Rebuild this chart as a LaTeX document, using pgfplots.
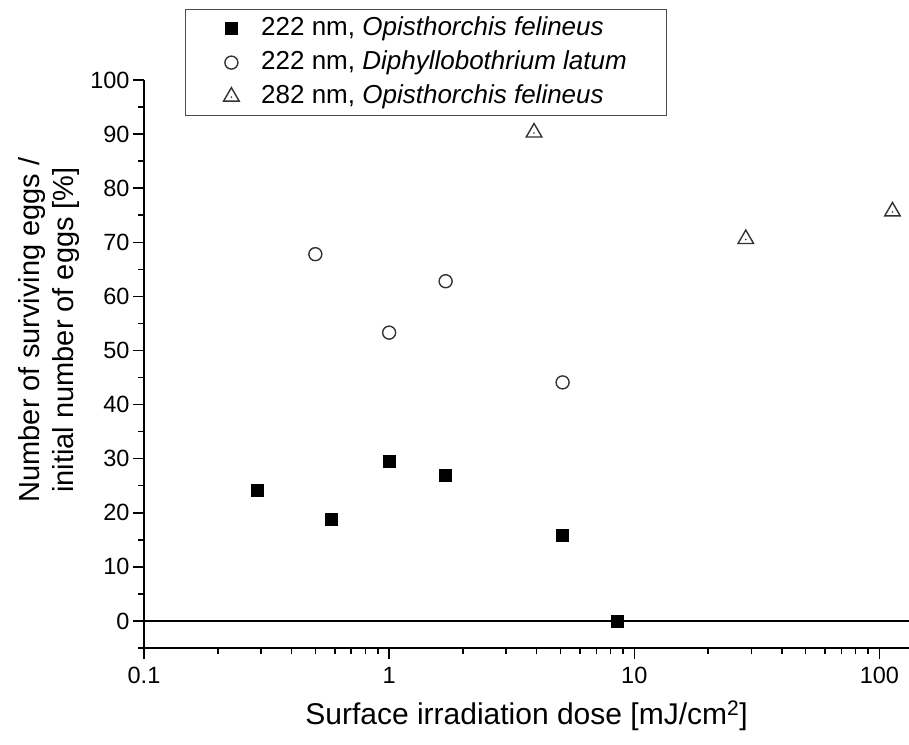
\documentclass[border=0pt]{standalone}
\usepackage{pgfplots}
\pgfplotsset{compat=1.18}
\usepackage{fontspec}
\setmainfont{Liberation Sans}
\definecolor{markgray}{HTML}{333333}
\pgfdeclareplotmark{tridot}{%
  \pgfpathmoveto{\pgfqpoint{0pt}{\pgfplotmarksize}}%
  \pgfpathlineto{\pgfqpointpolar{-30}{\pgfplotmarksize}}%
  \pgfpathlineto{\pgfqpointpolar{210}{\pgfplotmarksize}}%
  \pgfpathclose
  \pgfusepathqfillstroke
  \begin{pgfscope}
  \pgfpathcircle{\pgfqpoint{0pt}{-0.5pt}}{0.9pt}%
  \pgfsetfillcolor{markgray}\pgfusepathqfill
  \end{pgfscope}
}
\begin{document}
\begin{tikzpicture}
\begin{axis}[
  name=ax,
  scale only axis,
  width=765pt, height=568pt,
  xmode=log, xmin=0.1, xmax=132,
  ymin=-5, ymax=100,
  axis x line*=bottom, axis y line*=left,
  axis line style={line width=1.5pt, -},
  xtick={0.1,1,10,100}, xticklabels={0.1,1,10,100},
  minor xtick={0.2,0.3,0.4,0.5,0.6,0.7,0.8,0.9,2,3,4,5,6,7,8,9,20,30,40,50,60,70,80,90},
  ytick={0,10,20,30,40,50,60,70,80,90,100},
  minor ytick={-5,5,15,25,35,45,55,65,75,85,95},
  tick align=outside,
  major tick length=11pt, minor tick length=6pt,
  every tick/.style={black, line width=1.5pt},
  tick label style={font=\fontsize{23.5}{27}\selectfont},
  xticklabel style={yshift=-5pt},
  /pgf/number format/assume math mode=true,
  xlabel={Surface irradiation dose [mJ/cm\textsuperscript{2}]},
  ylabel={Number of surviving eggs /\\initial number of eggs [\%]},
  label style={font=\fontsize{30}{35}\selectfont, align=center},
  xlabel style={yshift=-10pt},
  ylabel style={at={(ticklabel cs:0.56)}, font=\fontsize{29}{34}\selectfont, yshift=4pt},
  legend style={at={(0.0536,1.125)}, anchor=north west, draw=gray!60!black, line width=1.2pt,
    font=\fontsize{26}{31}\selectfont, inner xsep=38pt, inner ysep=2pt,
    nodes={text height=19pt, text depth=6pt, inner ysep=4.5pt},
    column sep=20pt},
  legend cell align=left,
]
\addplot[only marks, mark=square*, mark size=6pt, black] coordinates {
  (0.29,24.1) (0.58,18.9) (1.0,29.5) (1.7,26.9) (5.1,15.9) (8.5,0)
};
\addlegendentry{222 nm, \textit{Opisthorchis felineus}}
\addplot[only marks, mark=o, mark size=6.5pt, mark options={draw=markgray, fill=white, line width=1.4pt}] coordinates {
  (0.50,67.8) (1.0,53.3) (1.7,62.8) (5.1,44.1)
};
\addlegendentry{222 nm, \textit{Diphyllobothrium latum}}
\addplot[only marks, mark=tridot, mark size=9pt, mark options={draw=markgray, fill=white, line width=1.4pt}] coordinates {
  (3.9,90.3) (28.5,70.6) (113,75.7)
};
\addlegendentry{282 nm, \textit{Opisthorchis felineus}}
\addplot[black, line width=1.4pt, forget plot] coordinates {(0.1,0) (132,0)};
\end{axis}
\pgfresetboundingbox
\path (ax.south west) ++(-144pt,-96pt) rectangle ++(909pt,744pt);
\end{tikzpicture}
\end{document}
